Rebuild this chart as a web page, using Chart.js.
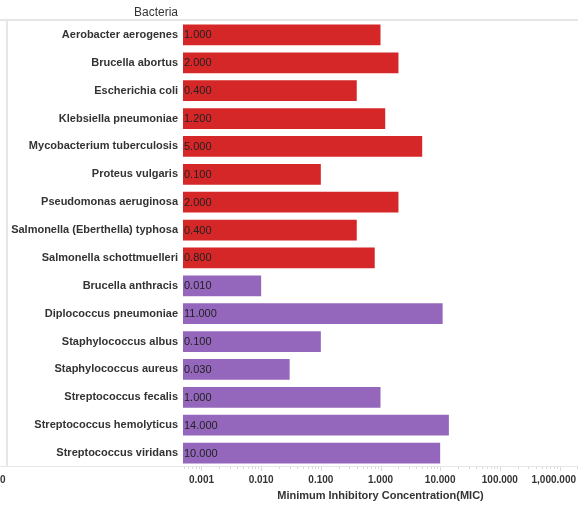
<!DOCTYPE html>
<html>
<head>
<meta charset="utf-8">
<script src="https://cdn.jsdelivr.net/npm/chart.js@4/dist/chart.umd.min.js"></script>
<style>
  html, body { margin: 0; padding: 0; background: #ffffff; }
  #wrap { width: 578px; height: 505px; position: relative; }
</style>
</head>
<body>
<div id="wrap"><canvas id="c" width="578" height="505"></canvas></div>
<script>
// Bacteria and their minimum inhibitory concentrations
const bacteria = [
  'Aerobacter aerogenes', 'Brucella abortus', 'Escherichia coli', 'Klebsiella pneumoniae',
  'Mycobacterium tuberculosis', 'Proteus vulgaris', 'Pseudomonas aeruginosa',
  'Salmonella (Eberthella) typhosa', 'Salmonella schottmuelleri', 'Brucella anthracis',
  'Diplococcus pneumoniae', 'Staphylococcus albus', 'Staphylococcus aureus',
  'Streptococcus fecalis', 'Streptococcus hemolyticus', 'Streptococcus viridans'
];
const mic = [1, 2, 0.4, 1.2, 5, 0.1, 2, 0.4, 0.8, 0.01, 11, 0.1, 0.03, 1, 14, 10];
const gram = ['neg', 'neg', 'neg', 'neg', 'neg', 'neg', 'neg', 'neg', 'neg',
              'pos', 'pos', 'pos', 'pos', 'pos', 'pos', 'pos'];
const xTickValues = [0.001, 0.01, 0.1, 1, 10, 100, 1000];
const strayAxisLabel = '0';
const rowHeader = 'Bacteria';
const xTitle = 'Minimum Inhibitory Concentration(MIC)';

const gramColors = { neg: '#d62728', pos: '#9467bd' };
const FONT = '"Liberation Sans", Arial, sans-serif';
const TEXT = '#333333';
const RULE = '#e6e6e6';

const fmt = v => v.toLocaleString('en-US', { minimumFractionDigits: 3, maximumFractionDigits: 3 });

const framePlugin = {
  id: 'frame',
  beforeDraw(chart) {
    const ctx = chart.ctx;
    const W = chart.width;
    const a = chart.chartArea;
    ctx.save();
    ctx.fillStyle = '#ffffff';
    ctx.fillRect(0, 0, W, chart.height);
    ctx.strokeStyle = RULE;
    ctx.lineWidth = 2;
    ctx.beginPath();
    ctx.moveTo(0, a.top - 1); ctx.lineTo(W, a.top - 1);
    ctx.moveTo(7, a.top - 1); ctx.lineTo(7, a.bottom);
    ctx.stroke();
    ctx.lineWidth = 1;
    ctx.beginPath();
    ctx.moveTo(0, a.bottom - 0.5); ctx.lineTo(W, a.bottom - 0.5);
    ctx.stroke();
    // header over the row labels
    ctx.fillStyle = TEXT;
    ctx.font = '12px ' + FONT;
    ctx.textAlign = 'right';
    ctx.textBaseline = 'middle';
    ctx.fillText(rowHeader, a.left - 5, 13);
    ctx.restore();
  },
  afterDraw(chart) {
    const ctx = chart.ctx;
    const a = chart.chartArea;
    const x = chart.scales.x;
    ctx.save();
    // minor and major tick marks
    ctx.strokeStyle = '#d9d9d9';
    ctx.lineWidth = 1;
    ctx.beginPath();
    for (let e = -4; e <= 3; e++) {
      for (let k = 1; k <= 9; k++) {
        const v = k * Math.pow(10, e);
        if (v < x.min || v > x.max) continue;
        const px = Math.round(x.getPixelForValue(v)) + 0.5;
        ctx.moveTo(px, a.bottom);
        ctx.lineTo(px, a.bottom + (k === 1 ? 4 : 2));
      }
    }
    ctx.stroke();
    // tick labels
    ctx.fillStyle = TEXT;
    ctx.font = 'bold 10px ' + FONT;
    ctx.textBaseline = 'middle';
    const ly = a.bottom + 13;
    xTickValues.forEach(v => {
      const label = fmt(v);
      const w = ctx.measureText(label).width;
      let cx = x.getPixelForValue(v);
      if (cx + w / 2 > chart.width - 2) cx = chart.width - 2 - w / 2;
      ctx.textAlign = 'center';
      ctx.fillText(label, cx, ly);
    });
    ctx.textAlign = 'left';
    ctx.fillText(strayAxisLabel, 0, ly);
    // axis title
    ctx.font = 'bold 11px ' + FONT;
    ctx.textAlign = 'center';
    ctx.fillText(xTitle, (a.left + a.right) / 2, a.bottom + 29);
    ctx.restore();
  },
  afterDatasetsDraw(chart) {
    const ctx = chart.ctx;
    const meta = chart.getDatasetMeta(0);
    ctx.save();
    ctx.fillStyle = '#222222';
    ctx.font = '11px ' + FONT;
    ctx.textAlign = 'left';
    ctx.textBaseline = 'middle';
    meta.data.forEach((bar, i) => {
      ctx.fillText(fmt(mic[i]), bar.base + 1, bar.y + 0.5);
    });
    ctx.restore();
  }
};

new Chart(document.getElementById('c'), {
  type: 'bar',
  data: {
    labels: bacteria,
    datasets: [{
      data: mic,
      backgroundColor: gram.map(g => gramColors[g]),
      borderWidth: 0,
      categoryPercentage: 1,
      barPercentage: 0.74
    }]
  },
  options: {
    indexAxis: 'y',
    responsive: false,
    animation: false,
    devicePixelRatio: 1,
    layout: { padding: { top: 21, bottom: 38, left: 0, right: 0 } },
    plugins: { legend: { display: false }, tooltip: { enabled: false } },
    scales: {
      x: {
        type: 'logarithmic',
        display: false,
        min: Math.pow(10, -3.31),
        max: Math.pow(10, 3.31)
      },
      y: {
        grid: { display: false, drawTicks: false },
        border: { display: false },
        ticks: {
          color: TEXT,
          font: { family: FONT, size: 11, weight: 'bold' },
          padding: 5,
          autoSkip: false
        },
        afterFit(scale) { scale.width = 183; }
      }
    }
  },
  plugins: [framePlugin]
});
</script>
</body>
</html>
